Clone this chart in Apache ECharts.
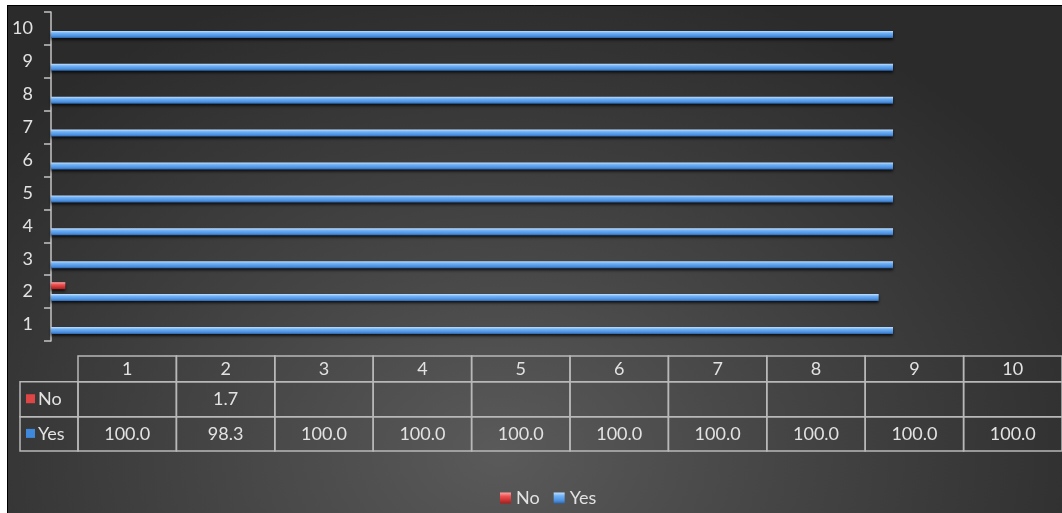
<!DOCTYPE html>
<html>
<head>
<meta charset="utf-8">
<script src="https://cdn.jsdelivr.net/npm/echarts@6/dist/echarts.min.js"></script>
<style>
html,body{margin:0;padding:0;background:#fff;}
#chart{position:absolute;left:0;top:0;width:1062px;height:513px;
background: radial-gradient(ellipse 62% 95% at 47% 88%, #5a5a5a 0%, #444 45%, #2b2b2b 100%);}
</style>
</head>
<body>
<div id="chart"></div>
<script>
// ---- data ----
const categories = ['1','2','3','4','5','6','7','8','9','10'];
const seriesNames = ['No','Yes'];
const noValues  = [null, 1.7, null, null, null, null, null, null, null, null];
const yesValues = [100.0, 98.3, 100.0, 100.0, 100.0, 100.0, 100.0, 100.0, 100.0, 100.0];

// ---- styles ----
const FONT = 'Lato';
const TXT = '#e2e2e2';
const LINE = '#b8b8b8';
const ROWS = [0, 0.27, 0.64, 1];
const blueGrad = new echarts.graphic.LinearGradient(0,0,0,1,[
  {offset:0,color:'#c2e0ff'},{offset:0.3,color:'#72b3f6'},{offset:0.75,color:'#4a8fe0'},{offset:1,color:'#2f64a6'}]);
const redGrad = new echarts.graphic.LinearGradient(0,0,0,1,[
  {offset:0,color:'#ffa5a5'},{offset:0.35,color:'#f05050'},{offset:1,color:'#a81e1e'}]);
const colors = {No: redGrad, Yes: blueGrad};
const iconColors = {No:'#de4545', Yes:'#3f88da'};

// table cells built from data
const rowsData = [categories, noValues.map(v => v == null ? '' : v.toFixed(1)), yesValues.map(v => v == null ? '' : v.toFixed(1))];
const cells = [];
rowsData.forEach((row, r) => row.forEach((t, c) => cells.push({c, r, text: t})));
seriesNames.forEach((n, i) => cells.push({c: -1, r: i + 1, text: n, label: true}));

const chart = echarts.init(document.getElementById('chart'), null, {renderer:'canvas'});
chart.setOption({
  backgroundColor: 'transparent',
  animation: false,
  textStyle: {fontFamily: FONT},
  grid: [
    {left: 51, right: 169, top: 12, bottom: 172},
    {left: 78, width: 987, top: 356, height: 95}
  ],
  xAxis: [
    {type:'value', min:0, max:100, show:false, gridIndex:0},
    {type:'value', min:0, max:10, show:false, gridIndex:1}
  ],
  yAxis: [
    {type:'category', data: categories, gridIndex:0,
     axisLine:{show:true, lineStyle:{color:'#c4c4c4', width:1.5}},
     axisTick:{show:true, length:7, lineStyle:{color:'#c4c4c4', width:1.5}},
     axisLabel:{color:TXT, fontSize:18, fontFamily:FONT, margin:18},
     splitLine:{show:false}},
    {type:'value', min:0, max:1, inverse:true, show:false, gridIndex:1}
  ],
  legend: {
    data: seriesNames, top: 484, left: 495,
    icon: 'rect', itemWidth: 11, itemHeight: 11, itemGap: 14,
    textStyle: {color: TXT, fontSize: 18, fontFamily: FONT}
  },
  series: [
    {name:'No', type:'bar', data: noValues, xAxisIndex:0, yAxisIndex:0,
     barWidth: 7, barGap: '70%',
     itemStyle:{color: colors.No, shadowBlur:3, shadowColor:'rgba(0,0,0,0.75)', shadowOffsetY:2}},
    {name:'Yes', type:'bar', data: yesValues, xAxisIndex:0, yAxisIndex:0,
     barWidth: 7, barGap: '70%',
     itemStyle:{color: colors.Yes, shadowBlur:3, shadowColor:'rgba(0,0,0,0.75)', shadowOffsetY:2}},
    {type:'custom', xAxisIndex:1, yAxisIndex:1, silent:true, clip:false,
     data: cells.map(d => [d.c, d.r]),
     renderItem: function(params, api){
       const d = cells[params.dataIndex];
       const y0 = api.coord([0, ROWS[d.r]])[1];
       const y1 = api.coord([0, ROWS[d.r+1]])[1];
       let x0, x1;
       if (d.c < 0) { x1 = api.coord([0, 0])[0]; x0 = x1 - 58; }
       else { x0 = api.coord([d.c, 0])[0]; x1 = api.coord([d.c + 1, 0])[0]; }
       const children = [{
         type:'rect', shape:{x:x0, y:y0, width:x1-x0, height:y1-y0},
         style:{fill:'none', stroke:LINE, lineWidth:1.5}
       }];
       if (d.label) {
         children.push({type:'rect', shape:{x:x0+6, y:(y0+y1)/2-5, width:9, height:9},
           style:{fill: iconColors[d.text]}});
         children.push({type:'text', style:{text:d.text, x:x0+18, y:(y0+y1)/2, fill:TXT,
           font:'18px ' + FONT, textAlign:'left', textVerticalAlign:'middle'}});
       } else {
         children.push({type:'text', style:{text:d.text, x:(x0+x1)/2, y:(y0+y1)/2, fill:TXT,
           font:'18px ' + FONT, textAlign:'center', textVerticalAlign:'middle'}});
       }
       return {type:'group', children};
     }}
  ],
  graphic: [
    {type:'rect', shape:{x:0, y:0, width:7, height:513}, style:{fill:'#fff'}, z:100},
    {type:'rect', shape:{x:0, y:0, width:1062, height:5}, style:{fill:'#fff'}, z:100},
    {type:'line', shape:{x1:7.5, y1:5, x2:7.5, y2:513}, style:{stroke:'#000', lineWidth:1}, z:100},
    {type:'line', shape:{x1:7, y1:5.5, x2:1062, y2:5.5}, style:{stroke:'#000', lineWidth:1}, z:100}
  ]
});
</script>
</body>
</html>
